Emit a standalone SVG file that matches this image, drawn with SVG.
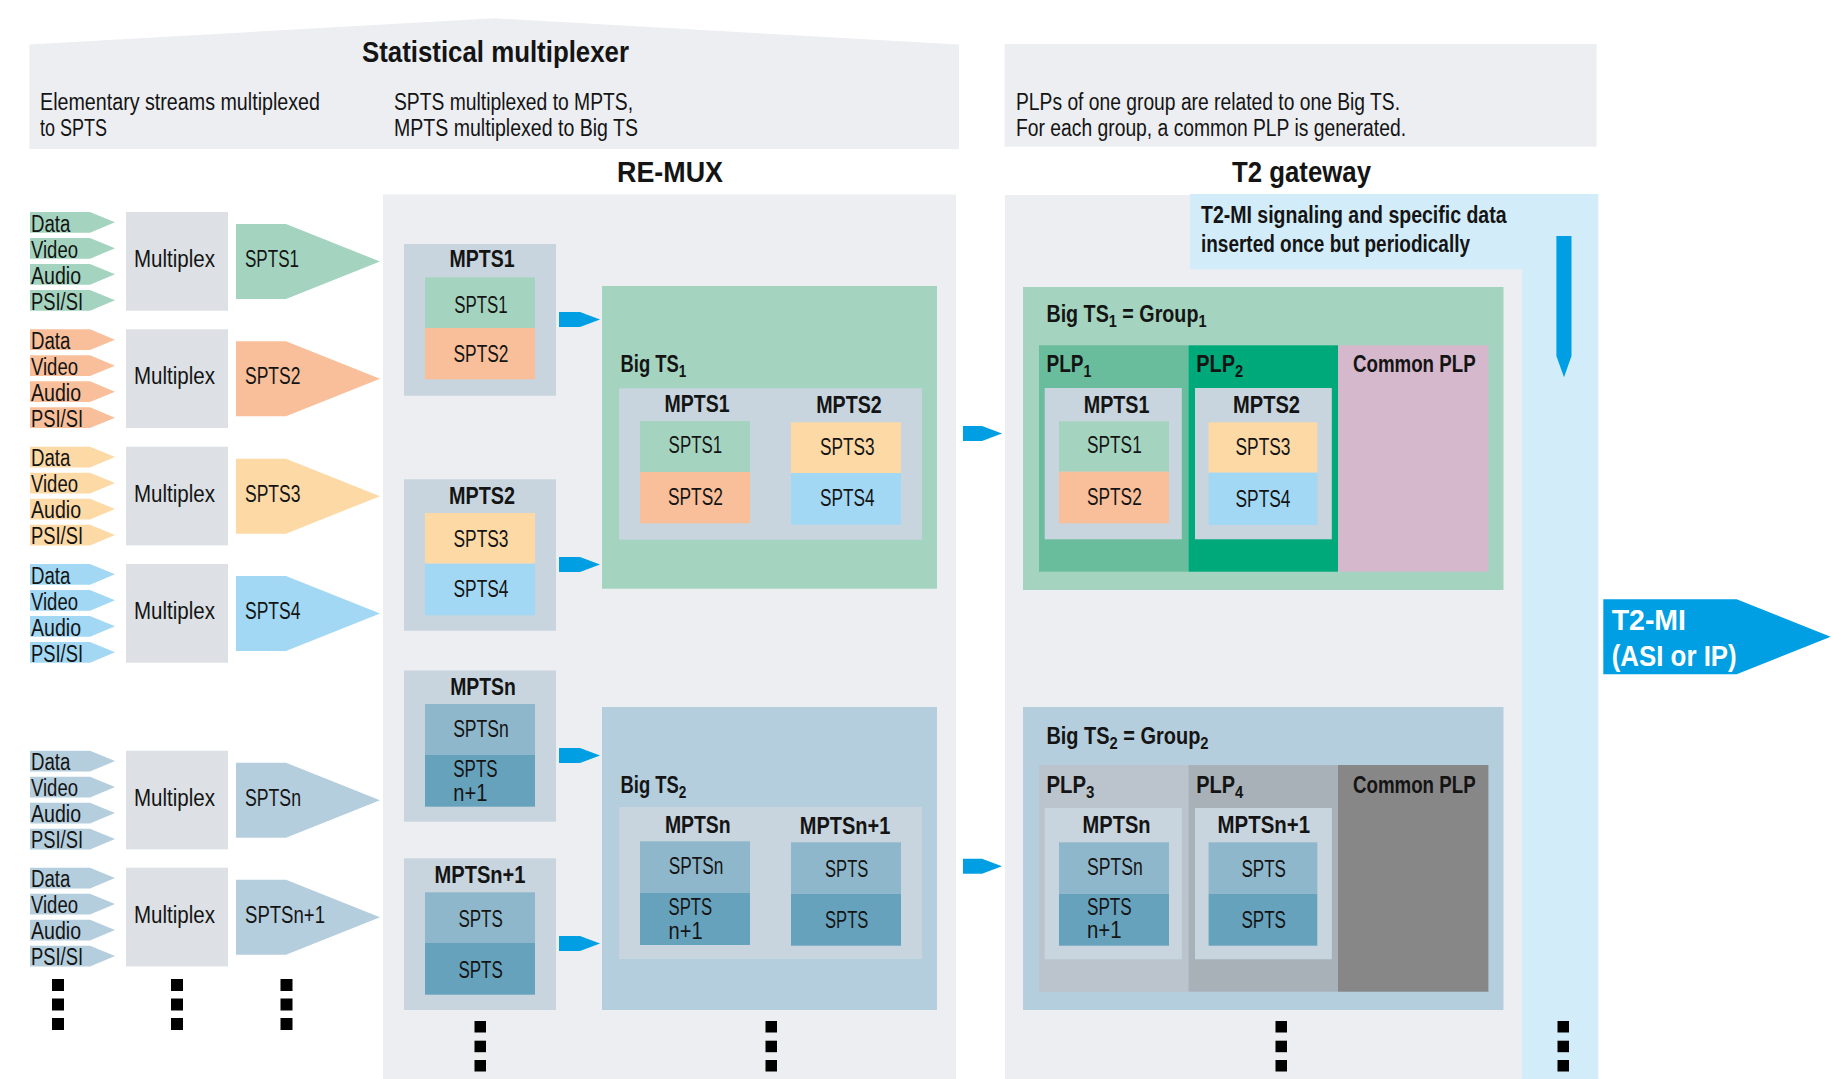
<svg xmlns="http://www.w3.org/2000/svg" xmlns:xlink="http://www.w3.org/1999/xlink" width="1834" height="1079" viewBox="0 0 1834 1079">
<style>
text{font-family:"Liberation Sans Narrow","Liberation Sans",Arial,sans-serif;font-size:23px;fill:#141414}
.b{font-weight:bold}
.h{font-weight:bold;font-size:30px}
.c{text-anchor:middle}
.sub{font-family:"Liberation Sans",Arial,sans-serif;font-weight:bold;font-size:23px}
.s{font-size:17px}
.w{fill:#ffffff;font-weight:bold;font-size:29px}
.panel{fill:#eceef2}
.mux{fill:#dde1e5}
.mpts{fill:#c8d5de}
.gr{fill:#a4d4bf}.or{fill:#f8bf9a}.ye{fill:#fdd9a6}.lb{fill:#a2d8f4}.st{fill:#b5cedd}
.sn{fill:#8fb7cb}.sn1{fill:#67a2bd}
.ar{fill:#009fe3}
.dot{fill:#000000}
</style>
<defs>
<path id="tab" d="M0,0 H60 L85,10.35 L60,20.7 H0 Z"/>
<path id="pent" d="M0,0 H50 L144,37.5 L50,75 H0 Z"/>
<path id="arr" d="M0,0 H21 L41,7.5 L21,15 H0 Z"/>
<path id="arr2" d="M0,0 H19 L39,7.5 L19,15 H0 Z"/>
<rect id="dot" width="12" height="12"/>
</defs>

<!-- header banners -->
<g id="banner-statmux">
<polygon class="panel" points="29.5,44.4 494.7,18.3 959,44.5 959,149 29.5,149"/>
<text class="h" x="362" y="62" textLength="267" lengthAdjust="spacingAndGlyphs">Statistical multiplexer</text>
<text x="40" y="110" textLength="280" lengthAdjust="spacingAndGlyphs">Elementary streams multiplexed</text>
<text x="40" y="136" textLength="67" lengthAdjust="spacingAndGlyphs">to SPTS</text>
<text x="394" y="110" textLength="239" lengthAdjust="spacingAndGlyphs">SPTS multiplexed to MPTS,</text>
<text x="394" y="136" textLength="244" lengthAdjust="spacingAndGlyphs">MPTS multiplexed to Big TS</text>
</g>
<g id="banner-gateway">
<rect class="panel" x="1004.6" y="44" width="592" height="102.7"/>
<text x="1016" y="110" textLength="384" lengthAdjust="spacingAndGlyphs">PLPs of one group are related to one Big TS.</text>
<text x="1016" y="136" textLength="390" lengthAdjust="spacingAndGlyphs">For each group, a common PLP is generated.</text>
</g>

<!-- left input groups -->
<g id="input-1">
<use xlink:href="#tab" x="30" y="212" class="gr"/><use xlink:href="#tab" x="30" y="238" class="gr"/><use xlink:href="#tab" x="30" y="264" class="gr"/><use xlink:href="#tab" x="30" y="290" class="gr"/>
<text x="31" y="231.7" textLength="39.4" lengthAdjust="spacingAndGlyphs">Data</text>
<text x="31" y="257.7" textLength="47" lengthAdjust="spacingAndGlyphs">Video</text>
<text x="31" y="283.7" textLength="50" lengthAdjust="spacingAndGlyphs">Audio</text>
<text x="31" y="309.7" textLength="52" lengthAdjust="spacingAndGlyphs">PSI/SI</text>
<rect class="mux" x="126" y="212" width="102" height="98.7"/>
<text x="134" y="267" textLength="81" lengthAdjust="spacingAndGlyphs">Multiplex</text>
<use xlink:href="#pent" x="236" y="224" class="gr"/>
<text x="245" y="267" textLength="54" lengthAdjust="spacingAndGlyphs">SPTS1</text>
</g>
<g id="input-2">
<use xlink:href="#tab" x="30" y="329.3" class="or"/><use xlink:href="#tab" x="30" y="355.3" class="or"/><use xlink:href="#tab" x="30" y="381.3" class="or"/><use xlink:href="#tab" x="30" y="407.3" class="or"/>
<text x="31" y="349" textLength="39.4" lengthAdjust="spacingAndGlyphs">Data</text>
<text x="31" y="375" textLength="47" lengthAdjust="spacingAndGlyphs">Video</text>
<text x="31" y="401" textLength="50" lengthAdjust="spacingAndGlyphs">Audio</text>
<text x="31" y="427" textLength="52" lengthAdjust="spacingAndGlyphs">PSI/SI</text>
<rect class="mux" x="126" y="329.3" width="102" height="98.7"/>
<text x="134" y="384.3" textLength="81" lengthAdjust="spacingAndGlyphs">Multiplex</text>
<use xlink:href="#pent" x="236" y="341.3" class="or"/>
<text x="245" y="384.3" textLength="55.5" lengthAdjust="spacingAndGlyphs">SPTS2</text>
</g>
<g id="input-3">
<use xlink:href="#tab" x="30" y="446.7" class="ye"/><use xlink:href="#tab" x="30" y="472.7" class="ye"/><use xlink:href="#tab" x="30" y="498.7" class="ye"/><use xlink:href="#tab" x="30" y="524.7" class="ye"/>
<text x="31" y="466.4" textLength="39.4" lengthAdjust="spacingAndGlyphs">Data</text>
<text x="31" y="492.4" textLength="47" lengthAdjust="spacingAndGlyphs">Video</text>
<text x="31" y="518.4" textLength="50" lengthAdjust="spacingAndGlyphs">Audio</text>
<text x="31" y="544.4" textLength="52" lengthAdjust="spacingAndGlyphs">PSI/SI</text>
<rect class="mux" x="126" y="446.7" width="102" height="98.7"/>
<text x="134" y="501.7" textLength="81" lengthAdjust="spacingAndGlyphs">Multiplex</text>
<use xlink:href="#pent" x="236" y="458.7" class="ye"/>
<text x="245" y="501.7" textLength="55.5" lengthAdjust="spacingAndGlyphs">SPTS3</text>
</g>
<g id="input-4">
<use xlink:href="#tab" x="30" y="564" class="lb"/><use xlink:href="#tab" x="30" y="590" class="lb"/><use xlink:href="#tab" x="30" y="616" class="lb"/><use xlink:href="#tab" x="30" y="642" class="lb"/>
<text x="31" y="583.7" textLength="39.4" lengthAdjust="spacingAndGlyphs">Data</text>
<text x="31" y="609.7" textLength="47" lengthAdjust="spacingAndGlyphs">Video</text>
<text x="31" y="635.7" textLength="50" lengthAdjust="spacingAndGlyphs">Audio</text>
<text x="31" y="661.7" textLength="52" lengthAdjust="spacingAndGlyphs">PSI/SI</text>
<rect class="mux" x="126" y="564" width="102" height="98.7"/>
<text x="134" y="619" textLength="81" lengthAdjust="spacingAndGlyphs">Multiplex</text>
<use xlink:href="#pent" x="236" y="576" class="lb"/>
<text x="245" y="619" textLength="55.5" lengthAdjust="spacingAndGlyphs">SPTS4</text>
</g>
<g id="input-n">
<use xlink:href="#tab" x="30" y="750.7" class="st"/><use xlink:href="#tab" x="30" y="776.7" class="st"/><use xlink:href="#tab" x="30" y="802.7" class="st"/><use xlink:href="#tab" x="30" y="828.7" class="st"/>
<text x="31" y="770.4" textLength="39.4" lengthAdjust="spacingAndGlyphs">Data</text>
<text x="31" y="796.4" textLength="47" lengthAdjust="spacingAndGlyphs">Video</text>
<text x="31" y="822.4" textLength="50" lengthAdjust="spacingAndGlyphs">Audio</text>
<text x="31" y="848.4" textLength="52" lengthAdjust="spacingAndGlyphs">PSI/SI</text>
<rect class="mux" x="126" y="750.7" width="102" height="98.7"/>
<text x="134" y="805.7" textLength="81" lengthAdjust="spacingAndGlyphs">Multiplex</text>
<use xlink:href="#pent" x="236" y="762.7" class="st"/>
<text x="245" y="805.7" textLength="56" lengthAdjust="spacingAndGlyphs">SPTSn</text>
</g>
<g id="input-n1">
<use xlink:href="#tab" x="30" y="867.7" class="st"/><use xlink:href="#tab" x="30" y="893.7" class="st"/><use xlink:href="#tab" x="30" y="919.7" class="st"/><use xlink:href="#tab" x="30" y="945.7" class="st"/>
<text x="31" y="887.4" textLength="39.4" lengthAdjust="spacingAndGlyphs">Data</text>
<text x="31" y="913.4" textLength="47" lengthAdjust="spacingAndGlyphs">Video</text>
<text x="31" y="939.4" textLength="50" lengthAdjust="spacingAndGlyphs">Audio</text>
<text x="31" y="965.4" textLength="52" lengthAdjust="spacingAndGlyphs">PSI/SI</text>
<rect class="mux" x="126" y="867.7" width="102" height="98.7"/>
<text x="134" y="922.7" textLength="81" lengthAdjust="spacingAndGlyphs">Multiplex</text>
<use xlink:href="#pent" x="236" y="879.7" class="st"/>
<text x="245" y="922.7" textLength="80" lengthAdjust="spacingAndGlyphs">SPTSn+1</text>
</g>
<g id="input-dots">
<use xlink:href="#dot" x="52" y="979" class="dot"/><use xlink:href="#dot" x="52" y="998.5" class="dot"/><use xlink:href="#dot" x="52" y="1018" class="dot"/>
<use xlink:href="#dot" x="171" y="979" class="dot"/><use xlink:href="#dot" x="171" y="998.5" class="dot"/><use xlink:href="#dot" x="171" y="1018" class="dot"/>
<use xlink:href="#dot" x="280.5" y="979" class="dot"/><use xlink:href="#dot" x="280.5" y="998.5" class="dot"/><use xlink:href="#dot" x="280.5" y="1018" class="dot"/>
</g>

<!-- RE-MUX -->
<g id="remux">
<text class="h" x="617" y="182" textLength="106" lengthAdjust="spacingAndGlyphs">RE-MUX</text>
<rect class="panel" x="383" y="194.5" width="573" height="884.5"/>
</g>
<g id="mpts1">
<rect class="mpts" x="404" y="244" width="152" height="151.7"/>
<text class="b c" x="482" y="267.3" textLength="65" lengthAdjust="spacingAndGlyphs">MPTS1</text>
<rect class="gr" x="425" y="277.3" width="110" height="50.7"/>
<rect class="or" x="425" y="328" width="110" height="51.3"/>
<text class="c" x="481" y="312.7" textLength="53.5" lengthAdjust="spacingAndGlyphs">SPTS1</text>
<text class="c" x="481" y="361.7" textLength="55" lengthAdjust="spacingAndGlyphs">SPTS2</text>
</g>
<g id="mpts2">
<rect class="mpts" x="404" y="479.3" width="152" height="151.4"/>
<text class="b c" x="482" y="504" textLength="66" lengthAdjust="spacingAndGlyphs">MPTS2</text>
<rect class="ye" x="425" y="513" width="110" height="50.7"/>
<rect class="lb" x="425" y="563.7" width="110" height="51.6"/>
<text class="c" x="481" y="546.7" textLength="55" lengthAdjust="spacingAndGlyphs">SPTS3</text>
<text class="c" x="481" y="596.7" textLength="55" lengthAdjust="spacingAndGlyphs">SPTS4</text>
</g>
<g id="mptsn">
<rect class="mpts" x="404" y="670.5" width="152" height="151.2"/>
<text class="b c" x="483" y="695" textLength="65.7" lengthAdjust="spacingAndGlyphs">MPTSn</text>
<rect class="sn" x="425" y="704" width="110" height="51"/>
<rect class="sn1" x="425" y="755" width="110" height="51.7"/>
<text class="c" x="481" y="736.7" textLength="55.7" lengthAdjust="spacingAndGlyphs">SPTSn</text>
<text x="453.3" y="777.3" textLength="44.3" lengthAdjust="spacingAndGlyphs">SPTS</text>
<text x="453.3" y="800.7" textLength="34" lengthAdjust="spacingAndGlyphs">n+1</text>
</g>
<g id="mptsn1">
<rect class="mpts" x="404" y="858.3" width="152" height="151.7"/>
<text class="b c" x="480" y="882.7" textLength="91" lengthAdjust="spacingAndGlyphs">MPTSn+1</text>
<rect class="sn" x="425" y="892.3" width="110" height="50.7"/>
<rect class="sn1" x="425" y="943" width="110" height="51.7"/>
<text class="c" x="480.6" y="926.7" textLength="44.4" lengthAdjust="spacingAndGlyphs">SPTS</text>
<text class="c" x="480.6" y="977.7" textLength="44.4" lengthAdjust="spacingAndGlyphs">SPTS</text>
</g>
<g id="bigts1">
<rect class="gr" x="602" y="286" width="335" height="302.7"/>
<text class="sub" transform="translate(620.5 372) scale(0.8 1)">Big TS<tspan class="s" dy="5">1</tspan></text>
<rect class="mpts" x="619" y="388.3" width="303" height="151.4"/>
<text class="b c" x="697" y="412.3" textLength="65" lengthAdjust="spacingAndGlyphs">MPTS1</text>
<text class="b c" x="849" y="413.3" textLength="65.5" lengthAdjust="spacingAndGlyphs">MPTS2</text>
<rect class="gr" x="640" y="421" width="110" height="51"/>
<rect class="or" x="640" y="472" width="110" height="51.3"/>
<rect class="ye" x="791" y="422.3" width="110" height="50.7"/>
<rect class="lb" x="791" y="473" width="110" height="51.7"/>
<text class="c" x="695.4" y="453.3" textLength="53.6" lengthAdjust="spacingAndGlyphs">SPTS1</text>
<text class="c" x="695.4" y="505" textLength="55" lengthAdjust="spacingAndGlyphs">SPTS2</text>
<text class="c" x="847.3" y="455" textLength="54.6" lengthAdjust="spacingAndGlyphs">SPTS3</text>
<text class="c" x="847.3" y="506" textLength="54.6" lengthAdjust="spacingAndGlyphs">SPTS4</text>
</g>
<g id="bigts2">
<rect class="st" x="602" y="707" width="335" height="303"/>
<text class="sub" transform="translate(620.5 793) scale(0.8 1)">Big TS<tspan class="s" dy="5">2</tspan></text>
<rect class="mpts" x="619" y="807" width="303" height="152"/>
<text class="b c" x="697.8" y="832.7" textLength="65.8" lengthAdjust="spacingAndGlyphs">MPTSn</text>
<text class="b c" x="845" y="834" textLength="90.5" lengthAdjust="spacingAndGlyphs">MPTSn+1</text>
<rect class="sn" x="640" y="841.3" width="110" height="51.4"/>
<rect class="sn1" x="640" y="892.7" width="110" height="52.3"/>
<rect class="sn" x="791" y="842.3" width="110" height="51.7"/>
<rect class="sn1" x="791" y="894" width="110" height="51.7"/>
<text class="c" x="696" y="874" textLength="54.7" lengthAdjust="spacingAndGlyphs">SPTSn</text>
<text x="668.6" y="915" textLength="43.6" lengthAdjust="spacingAndGlyphs">SPTS</text>
<text x="668.6" y="939.3" textLength="34" lengthAdjust="spacingAndGlyphs">n+1</text>
<text class="c" x="846.7" y="876.7" textLength="43.3" lengthAdjust="spacingAndGlyphs">SPTS</text>
<text class="c" x="846.7" y="928.3" textLength="43.3" lengthAdjust="spacingAndGlyphs">SPTS</text>
</g>
<g id="remux-dots">
<rect class="dot" x="474.5" y="1021" width="11.5" height="11.5"/><rect class="dot" x="474.5" y="1040.7" width="11.5" height="11.5"/><rect class="dot" x="474.5" y="1060" width="11.5" height="11.5"/>
<rect class="dot" x="765.5" y="1021" width="11.5" height="11.5"/><rect class="dot" x="765.5" y="1040.7" width="11.5" height="11.5"/><rect class="dot" x="765.5" y="1060" width="11.5" height="11.5"/>
</g>

<!-- T2 gateway -->
<g id="gateway">
<text class="h" x="1232" y="182" textLength="139" lengthAdjust="spacingAndGlyphs">T2 gateway</text>
<rect class="panel" x="1005" y="195" width="517" height="884"/>
<path fill="#d3ecf9" d="M1190,194 H1598.3 V1079 H1522 V269.3 H1190 Z"/>
<text class="b" x="1201" y="222.7" font-size="22" textLength="305.5" lengthAdjust="spacingAndGlyphs">T2-MI signaling and specific data</text>
<text class="b" x="1201" y="251.7" font-size="22" textLength="269" lengthAdjust="spacingAndGlyphs">inserted once but periodically</text>
<path class="ar" d="M1556.4,236 H1571.5 V356 L1564,377.3 L1556.4,356 Z"/>
</g>
<g id="group1">
<rect class="gr" x="1023" y="287" width="480.5" height="303"/>
<text class="sub" transform="translate(1046.4 322) scale(0.857 1)">Big TS<tspan class="s" dy="5">1</tspan><tspan dy="-5"> = Group</tspan><tspan class="s" dy="5">1</tspan></text>
<rect fill="#6abd9c" x="1039" y="345.3" width="149.5" height="226.4"/>
<rect fill="#00a97a" x="1188.5" y="345.3" width="149.5" height="226.4"/>
<rect fill="#d5b8cc" x="1338" y="345.3" width="150.4" height="226.4"/>
<text class="sub" transform="translate(1046.4 371.7) scale(0.83 1)">PLP<tspan class="s" dy="5">1</tspan></text>
<text class="sub" transform="translate(1196.3 371.7) scale(0.867 1)">PLP<tspan class="s" dy="5">2</tspan></text>
<text class="b" x="1353" y="371.7" textLength="122.6" lengthAdjust="spacingAndGlyphs">Common PLP</text>
<rect class="mpts" x="1044.7" y="388" width="137.1" height="151.3"/>
<text class="b c" x="1116.6" y="412.7" textLength="65.8" lengthAdjust="spacingAndGlyphs">MPTS1</text>
<rect class="gr" x="1059" y="421.3" width="110" height="50.4"/>
<rect class="or" x="1059" y="471.7" width="110" height="51.6"/>
<text class="c" x="1114.4" y="452.7" textLength="54.7" lengthAdjust="spacingAndGlyphs">SPTS1</text>
<text class="c" x="1114.4" y="505" textLength="54.7" lengthAdjust="spacingAndGlyphs">SPTS2</text>
<rect class="mpts" x="1195" y="388" width="136.8" height="151.3"/>
<text class="b c" x="1266.5" y="413.3" textLength="67" lengthAdjust="spacingAndGlyphs">MPTS2</text>
<rect class="ye" x="1208.6" y="422.3" width="108.7" height="50.4"/>
<rect class="lb" x="1208.6" y="472.7" width="108.7" height="52.3"/>
<text class="c" x="1263" y="455" textLength="55" lengthAdjust="spacingAndGlyphs">SPTS3</text>
<text class="c" x="1263" y="506.7" textLength="55" lengthAdjust="spacingAndGlyphs">SPTS4</text>
</g>
<g id="group2">
<rect class="st" x="1023" y="707" width="480.5" height="303"/>
<text class="sub" transform="translate(1046.4 744) scale(0.868 1)">Big TS<tspan class="s" dy="5">2</tspan><tspan dy="-5"> = Group</tspan><tspan class="s" dy="5">2</tspan></text>
<rect fill="#bbc4cc" x="1039" y="765" width="149.5" height="226.7"/>
<rect fill="#a8b0b8" x="1188.5" y="765" width="149.5" height="226.7"/>
<rect fill="#878787" x="1338" y="765" width="150.4" height="226.7"/>
<text class="sub" transform="translate(1046.4 793.3) scale(0.886 1)">PLP<tspan class="s" dy="5">3</tspan></text>
<text class="sub" transform="translate(1196.3 793.3) scale(0.867 1)">PLP<tspan class="s" dy="5">4</tspan></text>
<text class="b" x="1353" y="793.3" textLength="122.6" lengthAdjust="spacingAndGlyphs">Common PLP</text>
<rect class="mpts" x="1044.7" y="808" width="137.1" height="151.3"/>
<text class="b c" x="1116.6" y="833.3" textLength="68" lengthAdjust="spacingAndGlyphs">MPTSn</text>
<rect class="sn" x="1059" y="842.3" width="110" height="51.4"/>
<rect class="sn1" x="1059" y="893.7" width="110" height="52"/>
<text class="c" x="1114.9" y="875" textLength="55.8" lengthAdjust="spacingAndGlyphs">SPTSn</text>
<text x="1087" y="915" textLength="44.7" lengthAdjust="spacingAndGlyphs">SPTS</text>
<text x="1087" y="938.3" textLength="34.6" lengthAdjust="spacingAndGlyphs">n+1</text>
<rect class="mpts" x="1195" y="808" width="136.8" height="151.3"/>
<text class="b c" x="1263.8" y="833.3" textLength="92.5" lengthAdjust="spacingAndGlyphs">MPTSn+1</text>
<rect class="sn" x="1208.6" y="842.3" width="108.7" height="51.4"/>
<rect class="sn1" x="1208.6" y="893.7" width="108.7" height="52"/>
<text class="c" x="1263.7" y="877.3" textLength="44.5" lengthAdjust="spacingAndGlyphs">SPTS</text>
<text class="c" x="1263.7" y="928.3" textLength="44.5" lengthAdjust="spacingAndGlyphs">SPTS</text>
</g>
<g id="gateway-dots">
<rect class="dot" x="1275.5" y="1021" width="11.5" height="11.5"/><rect class="dot" x="1275.5" y="1040.7" width="11.5" height="11.5"/><rect class="dot" x="1275.5" y="1060" width="11.5" height="11.5"/>
<rect class="dot" x="1557.5" y="1021" width="11.5" height="11.5"/><rect class="dot" x="1557.5" y="1040.7" width="11.5" height="11.5"/><rect class="dot" x="1557.5" y="1060" width="11.5" height="11.5"/>
</g>
<g id="t2mi-output">
<path class="ar" d="M1603.3,599.3 H1736.7 L1830.7,636.8 L1736.7,674.3 H1603.3 Z"/>
<text class="w" x="1611.7" y="630" textLength="74.3" lengthAdjust="spacingAndGlyphs">T2-MI</text>
<text class="w" x="1611.7" y="666" textLength="125" lengthAdjust="spacingAndGlyphs">(ASI or IP)</text>
</g>

<!-- connectors -->
<g id="connectors">
<use xlink:href="#arr" x="559" y="312" class="ar"/>
<use xlink:href="#arr" x="559" y="557" class="ar"/>
<use xlink:href="#arr" x="559" y="748" class="ar"/>
<use xlink:href="#arr" x="559" y="936" class="ar"/>
<use xlink:href="#arr2" x="963" y="426" class="ar"/>
<use xlink:href="#arr2" x="963" y="858.7" class="ar"/>
</g>
</svg>
